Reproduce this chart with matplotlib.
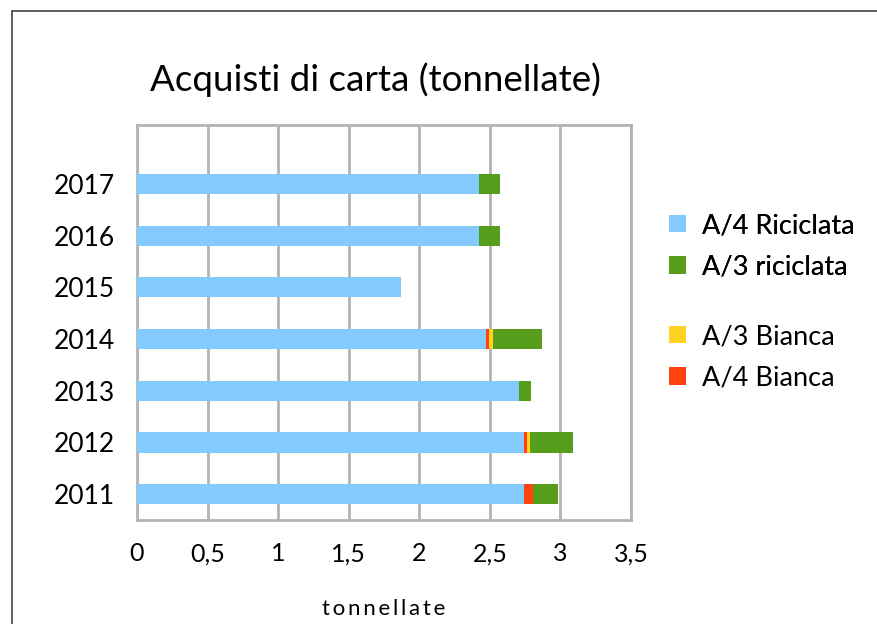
import numpy as np
import matplotlib
matplotlib.use("Agg")
import matplotlib.pyplot as plt
from matplotlib.patches import Rectangle

plt.rcParams['font.family'] = ['Lato', 'DejaVu Sans']

# dati (tonnellate)
anni = ['2011', '2012', '2013', '2014', '2015', '2016', '2017']
a4_riciclata = [2.74, 2.74, 2.71, 2.47, 1.87, 2.42, 2.42]
a4_bianca = [0.065, 0.025, 0.0, 0.025, 0.0, 0.0, 0.0]
a3_bianca = [0.0, 0.022, 0.0, 0.025, 0.0, 0.0, 0.0]
a3_riciclata = [0.175, 0.30, 0.08, 0.35, 0.0, 0.15, 0.15]

col_blu = '#83CAFF'
col_rosso = '#FF420E'
col_giallo = '#FFD320'
col_verde = '#579D1C'

fig = plt.figure(figsize=(8.78, 6.24), dpi=100)
ax = fig.add_axes([137/878, 1-520/624, (631-137)/878, (520-125)/624])

y = np.arange(len(anni))
h = 0.39
left = np.zeros(len(anni))
b1 = ax.barh(y, a4_riciclata, height=h, left=left, color=col_blu, label='A/4 Riciclata', zorder=3)
left += a4_riciclata
b4 = ax.barh(y, a4_bianca, height=h, left=left, color=col_rosso, label='A/4 Bianca', zorder=3)
left += a4_bianca
b3 = ax.barh(y, a3_bianca, height=h, left=left, color=col_giallo, label='A/3 Bianca', zorder=3)
left += a3_bianca
b2 = ax.barh(y, a3_riciclata, height=h, left=left, color=col_verde, label='A/3 riciclata', zorder=3)

ax.set_xlim(0, 3.5)
ax.set_ylim(-0.5, 7.14)
ax.set_xticks(np.arange(0, 3.51, 0.5))
ax.set_xticklabels(['0', '0,5', '1', '1,5', '2', '2,5', '3', '3,5'])
ax.set_yticks(y)
ax.set_yticklabels(anni)
ax.tick_params(axis='x', length=0, labelsize=18, pad=16)
ax.tick_params(axis='y', length=0, labelsize=19, pad=16)
ax.grid(axis='x', color='#b3b3b3', linewidth=2, zorder=0)
for s in ax.spines.values():
    s.set_color('#b3b3b3')
    s.set_linewidth(2)
ax.set_xlabel('\u2009'.join('tonnellate'), fontsize=16, labelpad=24)

fig.text(375/878, 1-80/624, 'Acquisti di carta (tonnellate)', fontsize=26.5,
         ha='center', va='center')

leg1 = fig.legend(handles=[b1, b2], loc='upper left', bbox_to_anchor=(645/878, 1-189/624),
                  frameon=False, fontsize=19.5, handlelength=0.6, handleheight=0.6,
                  handletextpad=0.6, labelspacing=0.6)
fig.add_artist(leg1)
fig.legend(handles=[b3, b4], loc='upper left', bbox_to_anchor=(645/878, 1-300/624),
           frameon=False, fontsize=19.5, handlelength=0.6, handleheight=0.6,
           handletextpad=0.6, labelspacing=0.6)

# cornice esterna
fig.patches.append(Rectangle((12/878, -0.05), 1.0, 1-11/624+0.05, transform=fig.transFigure,
                             fill=False, edgecolor='#444444', linewidth=1.2))

fig.savefig('out.png', dpi=100)
